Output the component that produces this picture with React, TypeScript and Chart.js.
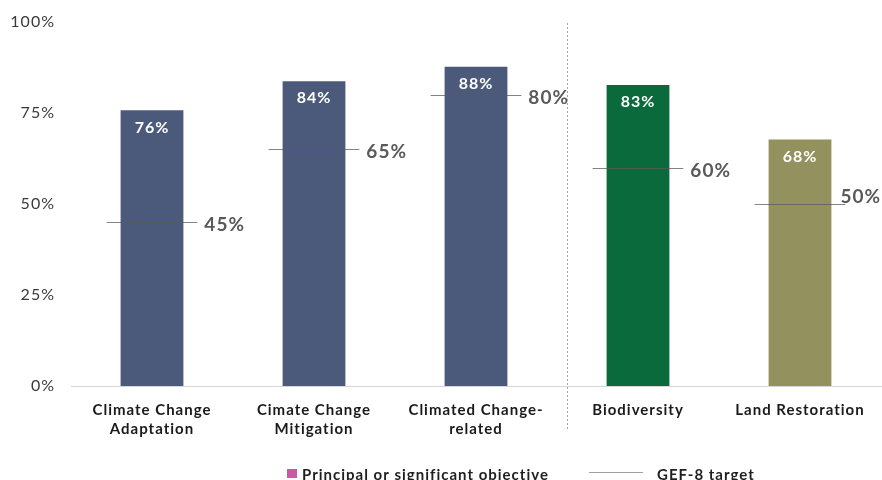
import React, { useEffect, useRef } from "react";
import { Chart, registerables } from "chart.js";

Chart.register(...registerables);

// Share of financing with climate / biodiversity / land objectives, against GEF-8 targets
const categories: string[][] = [
  ["Climate Change", "Adaptation"],
  ["Cimate Change", "Mitigation"],
  ["Climated Change-", "related"],
  ["Biodiversity"],
  ["Land Restoration"],
];
const shares: number[] = [76, 84, 88, 83, 68];
const targets: number[] = [45, 65, 80, 60, 50];
const barColors: string[] = ["#4B5A7B", "#4B5A7B", "#4B5A7B", "#0B6A3B", "#93915D"];
const yTicks: number[] = [0, 25, 50, 75, 100];
const legendItems: string[] = ["Principal or significant objective", "GEF-8 target"];
// separator sits between the climate group and the other themes (category units)
const separatorAt = 2.56;

const FONT = "Lato, 'Open Sans', 'DejaVu Sans', sans-serif";

const spacingPlugin = {
  id: "spacing",
  beforeDraw(chart: any) {
    chart.ctx.letterSpacing = "1px";
  },
  afterDraw(chart: any) {
    chart.ctx.letterSpacing = "0px";
  },
};

const decorPlugin = {
  id: "decor",
  afterDatasetsDraw(chart: any) {
    const { ctx, chartArea, scales } = chart;
    const x = scales.x;
    const y = scales.y;
    const step = x.getPixelForValue(1) - x.getPixelForValue(0);
    const half = step * 0.28;

    ctx.save();
    ctx.letterSpacing = "1px";
    // value labels inside bars
    const meta = chart.getDatasetMeta(0);
    ctx.fillStyle = "#ffffff";
    ctx.font = `bold 16px ${FONT}`;
    ctx.textAlign = "center";
    ctx.textBaseline = "middle";
    meta.data.forEach((bar: any, i: number) => {
      ctx.fillText(`${shares[i]}%`, bar.x, bar.y + 18);
    });

    // target markers
    targets.forEach((t, i) => {
      const cx = x.getPixelForValue(i);
      const ty = Math.round(y.getPixelForValue(t)) + 0.5;
      ctx.strokeStyle = "rgba(90,90,90,0.75)";
      ctx.lineWidth = 1;
      ctx.beginPath();
      ctx.moveTo(cx - half, ty);
      ctx.lineTo(cx + half, ty);
      ctx.stroke();

      ctx.font = `bold 19px ${FONT}`;
      ctx.fillStyle = "#5a5a5a";
      ctx.textAlign = "left";
      ctx.textBaseline = "middle";
      const label = `${t}%`;
      const w = ctx.measureText(label).width;
      let lx = cx + half + 7;
      let ly = ty + 2;
      if (lx + w > chart.width - 1) {
        lx = chart.width - 1 - w;
        ly = ty - 8;
      }
      ctx.fillText(label, lx, ly);
    });

    // dashed separator
    const sx = Math.round(x.getPixelForValue(separatorAt)) + 0.5;
    ctx.strokeStyle = "#a6a6a6";
    ctx.setLineDash([2, 2]);
    ctx.beginPath();
    ctx.moveTo(sx, chartArea.top + 1);
    ctx.lineTo(sx, chartArea.bottom + 44);
    ctx.stroke();
    ctx.setLineDash([]);

    // legend
    ctx.fillStyle = "#C55BA3";
    ctx.fillRect(287, 469, 10, 9);
    ctx.fillStyle = "#1f1f1f";
    ctx.font = `bold 15px ${FONT}`;
    ctx.textAlign = "left";
    ctx.textBaseline = "alphabetic";
    ctx.fillText(legendItems[0], 302, 480);
    ctx.strokeStyle = "#a0a0a0";
    ctx.beginPath();
    ctx.moveTo(589, 472.5);
    ctx.lineTo(643, 472.5);
    ctx.stroke();
    ctx.fillText(legendItems[1], 657, 480);
    ctx.restore();
  },
};

export default function App() {
  const ref = useRef<HTMLCanvasElement | null>(null);

  useEffect(() => {
    if (!ref.current) return;
    const chart = new Chart(ref.current, {
      type: "bar",
      data: {
        labels: categories,
        datasets: [
          {
            data: shares,
            backgroundColor: barColors,
            borderColor: "rgba(255,255,255,0.35)",
            borderWidth: 1,
            barPercentage: 0.4,
            categoryPercentage: 1,
          },
        ],
      },
      options: {
        responsive: false,
        animation: false,
        layout: { padding: { top: 22, right: 1, bottom: 0, left: 0 } },
        plugins: { legend: { display: false }, tooltip: { enabled: false } },
        scales: {
          x: {
            grid: { display: false, drawTicks: false },
            border: { display: true, color: "#d6d6d6", width: 1 },
            ticks: {
              color: "#1a1a1a",
              font: { family: FONT, size: 15, weight: "bold", lineHeight: 1.3 },
              padding: 14,
              maxRotation: 0,
              autoSkip: false,
            },
            afterFit(scale: any) {
              scale.height = 94;
            },
          },
          y: {
            min: 0,
            max: 100,
            afterBuildTicks(scale: any) {
              scale.ticks = yTicks.map((v) => ({ value: v }));
            },
            grid: { display: false, drawTicks: false },
            border: { display: false },
            ticks: {
              color: "#3a3a3a",
              font: { family: FONT, size: 16 },
              padding: 16,
              callback: (v: any) => `${v}%`,
            },
            afterFit(scale: any) {
              scale.width = 71;
              scale.paddingTop = 10;
              scale.paddingBottom = 10;
            },
          },
        },
      },
      plugins: [spacingPlugin, decorPlugin],
    });
    return () => chart.destroy();
  }, []);

  return (
    <div style={{ position: "fixed", left: 0, top: 0, width: 882, height: 480, background: "#fff" }}>
      <canvas ref={ref} width={882} height={480} />
    </div>
  );
}
